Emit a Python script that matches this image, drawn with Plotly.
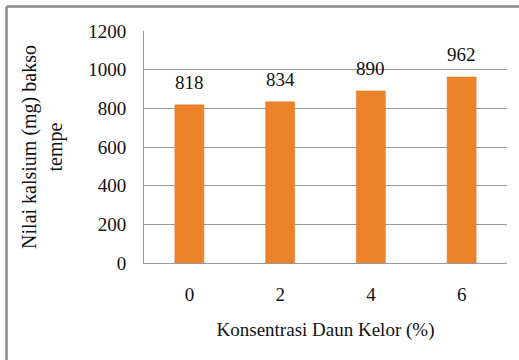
import plotly.graph_objects as go

categories = ["0", "2", "4", "6"]
values = [818, 834, 890, 962]
y_ticks = [0, 200, 400, 600, 800, 1000, 1200]

FONT = "Liberation Serif, Times New Roman, serif"
W, H = 519, 360
ML, MR, MT, MB = 144, 12, 31, 97
PW = W - ML - MR
PH = H - MT - MB

fig = go.Figure()
fig.add_trace(go.Bar(
    x=categories, y=values,
    marker=dict(color="#EC832A", line=dict(color="#E07A26", width=0.5)),
    width=0.32,
    textposition="none",
    hoverinfo="x+y",
))

for i, v in enumerate(values):
    fig.add_annotation(x=i, y=v, text=str(values[i]), showarrow=False,
                       yanchor="bottom", yshift=10,
                       font=dict(family=FONT, size=19, color="#111111"))

# outer chart border (left and top visible)
fig.add_shape(type="line", xref="paper", yref="paper",
              x0=(6.5 - ML) / PW, x1=(W + 5 - ML) / PW,
              y0=(H - MB - 6.5) / PH, y1=(H - MB - 6.5) / PH,
              line=dict(color="#8a8a8a", width=2.5))
fig.add_shape(type="line", xref="paper", yref="paper",
              x0=(6.5 - ML) / PW, x1=(6.5 - ML) / PW,
              y0=(H - MB - 6.5) / PH, y1=-(MB + 5) / PH,
              line=dict(color="#8a8a8a", width=2.5))

fig.update_layout(
    width=W, height=H,
    margin=dict(l=ML, r=MR, t=MT, b=MB),
    paper_bgcolor="white", plot_bgcolor="white",
    showlegend=False,
    font=dict(family=FONT, size=19, color="#111111"),
    xaxis=dict(
        type="category",
        range=[-0.5, 3.5],
        showline=True, linecolor="#9a9a9a", linewidth=1,
        showgrid=False, ticks="", ticklabelstandoff=14,
        tickfont=dict(family=FONT, size=19),
        title=dict(text="Konsentrasi Daun Kelor (%)", standoff=18,
                   font=dict(family=FONT, size=19)),
    ),
    yaxis=dict(
        range=[0, 1200], tickvals=y_ticks,
        showline=True, linecolor="#9a9a9a", linewidth=1,
        showgrid=True, gridcolor="#9a9a9a", gridwidth=1,
        zeroline=False, ticks="", ticklabelstandoff=13,
        tickfont=dict(family=FONT, size=19),
        title=dict(text="Nilai kalsium (mg) bakso<br>tempe", standoff=20,
                   font=dict(family=FONT, size=20)),
    ),
)

fig.write_html("out.html")
